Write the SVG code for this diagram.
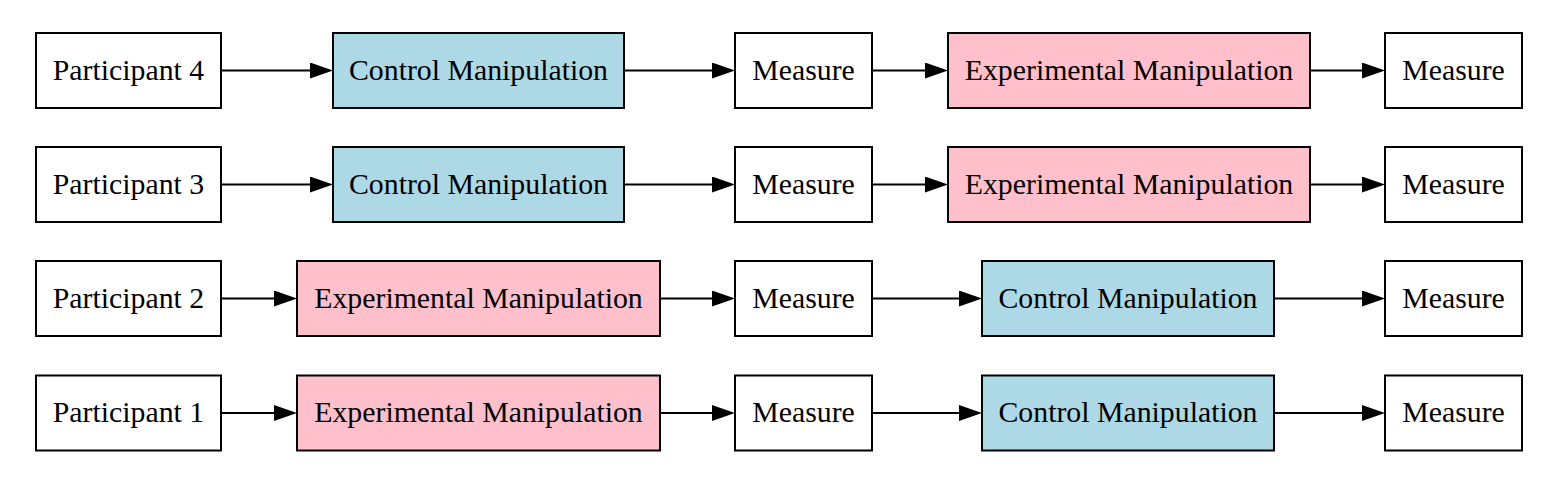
<svg xmlns="http://www.w3.org/2000/svg" width="1560" height="494" viewBox="0 0 1560 494">
<style>
.n rect{stroke:#000;stroke-width:2}
.w{fill:#fff}
.b{fill:#add8e6}
.p{fill:#ffc0cb}
text{font-family:"Liberation Serif","Times New Roman",serif;font-size:29.8px;fill:#000;text-anchor:middle}
#edges line{stroke:#000;stroke-width:2;marker-end:url(#ah)}
</style>
<defs>
<marker id="ah" markerUnits="userSpaceOnUse" viewBox="0 0 23 16" markerWidth="23" markerHeight="16" refX="3" refY="8" orient="auto">
<path d="M0,0 L23,8 L0,16 Z" fill="#000"/>
</marker>
</defs>
<rect width="1560" height="494" fill="#fff"/>
<g id="edges">
<line x1="221" y1="70.5" x2="313" y2="70.5"/>
<line x1="624" y1="70.5" x2="715" y2="70.5"/>
<line x1="872" y1="70.5" x2="928" y2="70.5"/>
<line x1="1310" y1="70.5" x2="1365" y2="70.5"/>
<line x1="221" y1="184.5" x2="313" y2="184.5"/>
<line x1="624" y1="184.5" x2="715" y2="184.5"/>
<line x1="872" y1="184.5" x2="928" y2="184.5"/>
<line x1="1310" y1="184.5" x2="1365" y2="184.5"/>
<line x1="221" y1="298.5" x2="277" y2="298.5"/>
<line x1="660" y1="298.5" x2="715" y2="298.5"/>
<line x1="872" y1="298.5" x2="962" y2="298.5"/>
<line x1="1274" y1="298.5" x2="1365" y2="298.5"/>
<line x1="221" y1="413" x2="277" y2="413"/>
<line x1="660" y1="413" x2="715" y2="413"/>
<line x1="872" y1="413" x2="962" y2="413"/>
<line x1="1274" y1="413" x2="1365" y2="413"/>
</g>
<!-- Row 4 -->
<g id="p4" class="n"><rect class="w" x="36" y="33" width="185" height="75"/><text x="128.5" y="79.5">Participant 4</text></g>
<g id="p4_c" class="n"><rect class="b" x="333" y="33" width="291" height="75"/><text x="478.5" y="79.5">Control Manipulation</text></g>
<g id="p4_m1" class="n"><rect class="w" x="735" y="33" width="137" height="75"/><text x="803.5" y="79.5">Measure</text></g>
<g id="p4_e" class="n"><rect class="p" x="948" y="33" width="362" height="75"/><text x="1129" y="79.5">Experimental Manipulation</text></g>
<g id="p4_m2" class="n"><rect class="w" x="1385" y="33" width="137" height="75"/><text x="1453.5" y="79.5">Measure</text></g>
<!-- Row 3 -->
<g id="p3" class="n"><rect class="w" x="36" y="147" width="185" height="75"/><text x="128.5" y="193.5">Participant 3</text></g>
<g id="p3_c" class="n"><rect class="b" x="333" y="147" width="291" height="75"/><text x="478.5" y="193.5">Control Manipulation</text></g>
<g id="p3_m1" class="n"><rect class="w" x="735" y="147" width="137" height="75"/><text x="803.5" y="193.5">Measure</text></g>
<g id="p3_e" class="n"><rect class="p" x="948" y="147" width="362" height="75"/><text x="1129" y="193.5">Experimental Manipulation</text></g>
<g id="p3_m2" class="n"><rect class="w" x="1385" y="147" width="137" height="75"/><text x="1453.5" y="193.5">Measure</text></g>
<!-- Row 2 -->
<g id="p2" class="n"><rect class="w" x="36" y="261" width="185" height="75"/><text x="128.5" y="307.5">Participant 2</text></g>
<g id="p2_e" class="n"><rect class="p" x="297" y="261" width="363" height="75"/><text x="478.5" y="307.5">Experimental Manipulation</text></g>
<g id="p2_m1" class="n"><rect class="w" x="735" y="261" width="137" height="75"/><text x="803.5" y="307.5">Measure</text></g>
<g id="p2_c" class="n"><rect class="b" x="982" y="261" width="292" height="75"/><text x="1128" y="307.5">Control Manipulation</text></g>
<g id="p2_m2" class="n"><rect class="w" x="1385" y="261" width="137" height="75"/><text x="1453.5" y="307.5">Measure</text></g>
<!-- Row 1 -->
<g id="p1" class="n"><rect class="w" x="36" y="375.5" width="185" height="75"/><text x="128.5" y="422">Participant 1</text></g>
<g id="p1_e" class="n"><rect class="p" x="297" y="375.5" width="363" height="75"/><text x="478.5" y="422">Experimental Manipulation</text></g>
<g id="p1_m1" class="n"><rect class="w" x="735" y="375.5" width="137" height="75"/><text x="803.5" y="422">Measure</text></g>
<g id="p1_c" class="n"><rect class="b" x="982" y="375.5" width="292" height="75"/><text x="1128" y="422">Control Manipulation</text></g>
<g id="p1_m2" class="n"><rect class="w" x="1385" y="375.5" width="137" height="75"/><text x="1453.5" y="422">Measure</text></g>
</svg>
